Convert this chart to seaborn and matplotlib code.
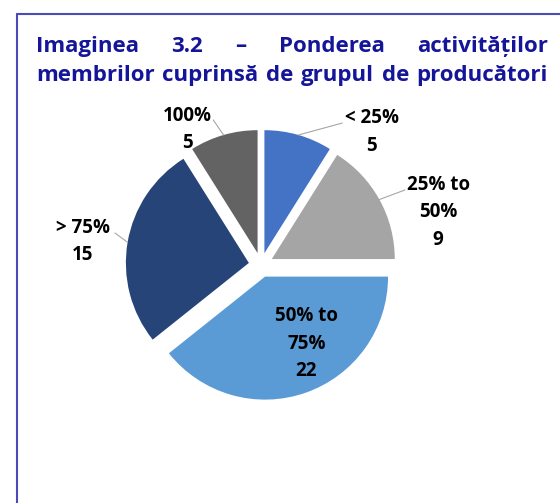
# graficos
import matplotlib
matplotlib.use('Agg')
import matplotlib.pyplot as plt
import numpy as np
import seaborn as sns

# datos del grafico
categorias = ['< 25%', '25% to\n50%', '50% to\n75%', '> 75%', '100%']
valores = [5, 9, 22, 15, 5]
colores = ['#4472C4', '#A5A5A5', '#5B9BD5', '#264478', '#636363']
titulo_l1 = ['Imaginea', '3.2', '–', 'Ponderea', 'activităților']
titulo_l2 = ['membrilor', 'cuprinsă', 'de', 'grupul', 'de', 'producători']

# posiciones de las etiquetas (unidades del pie) y fin de las lineas guia
pos_etiquetas = [(0.90, 1.08), (1.44, 0.43), (0.37, -0.64), (-1.45, 0.19), (-0.60, 1.10)]
fin_lineas = [(0.66, 1.154), (1.17, 0.61), None, (-1.187, 0.26), (-0.388, 1.179)]

sns.set_theme(style='white')
plt.rcParams['font.family'] = ['Open Sans', 'DejaVu Sans']

W, H = 560, 503
fig = plt.figure(figsize=(W / 100, H / 100), dpi=100)
fig.patch.set_facecolor('white')

# marco
borde = '#4B4BB8'
fig.add_artist(plt.Line2D([17 / W, 17 / W], [0, (H - 14) / H], color=borde, lw=1.5, transform=fig.transFigure))
fig.add_artist(plt.Line2D([17 / W, 1], [(H - 14) / H, (H - 14) / H], color=borde, lw=1.5, transform=fig.transFigure))

# titulo justificado
renderer = fig.canvas.get_renderer()
x0, x1 = 36, 548

# tamaño de letra para que la segunda linea ocupe todo el ancho
prueba = fig.text(0, 0, ' '.join(titulo_l2), fontsize=15, fontweight='bold')
tam_titulo = 15 * (x1 - x0) / prueba.get_window_extent(renderer).width * 0.985
prueba.remove()

def linea_justificada(palabras, y_px):
    textos = [fig.text(0, y_px / H, p, fontsize=tam_titulo, fontweight='bold', color='#15159A',
                       va='baseline', ha='left') for p in palabras]
    anchos = [t.get_window_extent(renderer).width for t in textos]
    hueco = (x1 - x0 - sum(anchos)) / (len(palabras) - 1)
    x = x0
    for t, a in zip(textos, anchos):
        t.set_x(x / W)
        x += a + hueco

linea_justificada(titulo_l1, H - 52)
linea_justificada(titulo_l2, H - 81)

# pie
cx, cy, r = 261, 265, 123
lado = 3 * r
ax = fig.add_axes([(cx - lado / 2) / W, (H - cy - lado / 2) / H, lado / W, lado / H])
wedges, _ = ax.pie(valores, colors=colores, startangle=90, counterclock=False,
                   explode=[0.1] * len(valores), wedgeprops=dict(linewidth=0))
ax.set_xlim(-1.5, 1.5)
ax.set_ylim(-1.5, 1.5)

for w, cat, val, pos, fin in zip(wedges, categorias, valores, pos_etiquetas, fin_lineas):
    ax.text(pos[0], pos[1], f'{cat}\n{val}', ha='center', va='center', fontsize=13.5,
            fontweight='bold', color='black', linespacing=1.5)
    if fin is not None:
        ang = np.deg2rad((w.theta1 + w.theta2) / 2)
        ini = (w.center[0] + w.r * np.cos(ang), w.center[1] + w.r * np.sin(ang))
        ax.plot([ini[0], fin[0]], [ini[1], fin[1]], color='#A6A6A6', lw=0.8)

fig.savefig('out.png', dpi=100)
